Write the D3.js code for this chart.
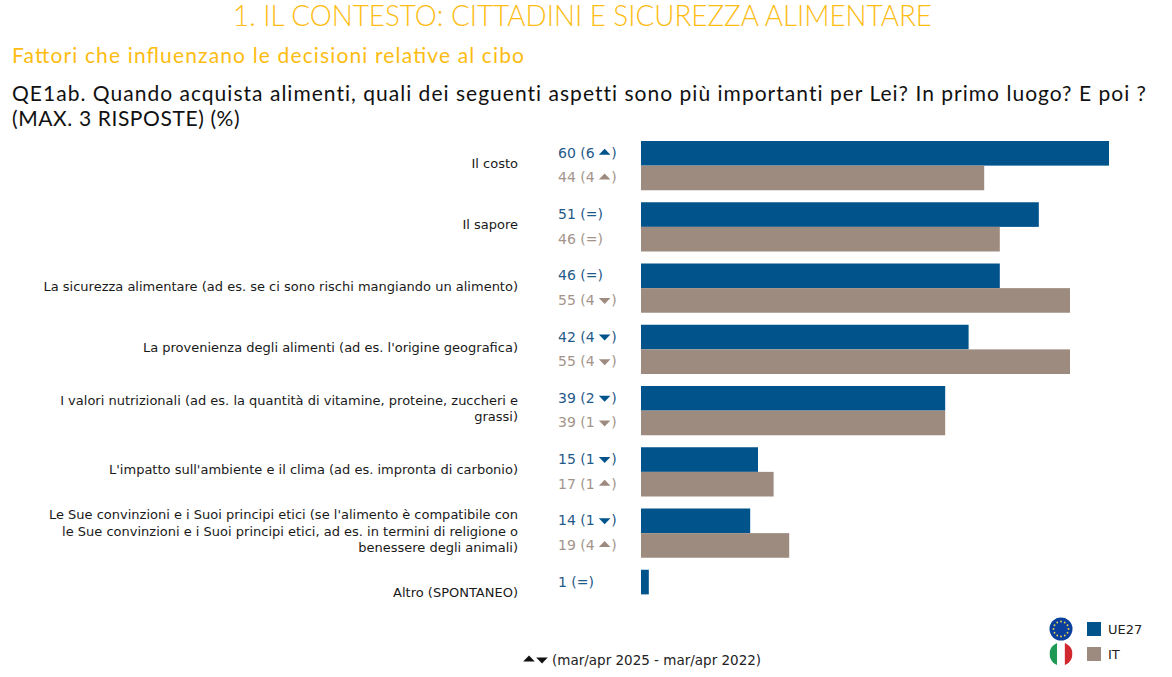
<!DOCTYPE html>
<html>
<head>
<meta charset="utf-8">
<script src="https://cdn.jsdelivr.net/npm/d3@7"></script>
<style>
  html, body { margin: 0; padding: 0; background: #fff; }
  text { font-family: "DejaVu Sans", sans-serif; }
  .head { font-family: "Lato", "Noto Sans", sans-serif; }
</style>
</head>
<body>
<div id="chart"></div>
<script>
// chart values
var categories = [
  ["Il costo"],
  ["Il sapore"],
  ["La sicurezza alimentare (ad es. se ci sono rischi mangiando un alimento)"],
  ["La provenienza degli alimenti (ad es. l'origine geografica)"],
  ["I valori nutrizionali (ad es. la quantità di vitamine, proteine, zuccheri e", "grassi)"],
  ["L'impatto sull'ambiente e il clima (ad es. impronta di carbonio)"],
  ["Le Sue convinzioni e i Suoi principi etici (se l'alimento è compatibile con", "le Sue convinzioni e i Suoi principi etici, ad es. in termini di religione o", "benessere degli animali)"],
  ["Altro (SPONTANEO)"]
];
var seriesNames = ["UE27", "IT"];
var valuesUE = [60, 51, 46, 42, 39, 15, 14, 1];
var valuesIT = [44, 46, 55, 55, 39, 17, 19, null];
var changeUE = ["6 up", "=", "=", "4 down", "2 down", "1 down", "1 down", "="];
var changeIT = ["4 up", "=", "4 down", "4 down", "1 down", "1 up", "4 up", null];

var title = "1. IL CONTESTO: CITTADINI E SICUREZZA ALIMENTARE";
var subtitle = "Fattori che influenzano le decisioni relative al cibo";
var question = [
  "QE1ab. Quando acquista alimenti, quali dei seguenti aspetti sono più importanti per Lei? In primo luogo? E poi ?",
  "(MAX. 3 RISPOSTE) (%)"
];
var footnote = "(mar/apr 2025 - mar/apr 2022)";

var colors = {UE27: "#00538b", IT: "#9e8b80"};
var textColors = {UE27: "#1f5a88", IT: "#a3948a"};
var yellow = "#fdbc12";

var width = 1172, height = 677;

var svg = d3.select("#chart")
.append("svg")
  .attr("width", width)
  .attr("height", height)
  .style("display", "block");

// headings
svg.append("text")
  .attr("class", "head")
  .attr("x", 233).attr("y", 26)
  .attr("font-size", 30)
  .attr("font-weight", 300)
  .attr("textLength", 699)
  .attr("lengthAdjust", "spacingAndGlyphs")
  .attr("fill", yellow)
  .text(title);

svg.append("text")
  .attr("class", "head")
  .attr("x", 12).attr("y", 63)
  .attr("font-size", 21)
  .attr("font-weight", 400)
  .attr("textLength", 512)
  .attr("fill", yellow)
  .text(subtitle);

svg.selectAll("text.question")
  .data(question)
  .enter()
  .append("text")
    .attr("class", "question head")
    .attr("x", 12)
    .attr("y", function(d, i) { return 101 + i * 25; })
    .attr("font-size", 21)
    .attr("letter-spacing", function(d, i) { return i === 0 ? 1.02 : 0.6; })
    .attr("fill", "#111")
    .text(function(d) { return d; });

// triangles for the change labels
var triUp = d3.symbol().type(d3.symbolTriangle).size(58)();

function triTransform(cx, cy, dir) {
  return "translate(" + cx + "," + cy + ") scale(1," + (dir === "up" ? 0.6 : -0.6) + ")";
}

// scales
var x = d3.scaleLinear().domain([0, 60]).range([641, 1109]);
var y = d3.scaleBand()
  .domain(d3.range(categories.length))
  .range([141, 619])
  .paddingInner(12 / 61.25)
  .paddingOuter(0);
var inner = d3.scaleBand()
  .domain(seriesNames)
  .range([0, y.bandwidth()]);

var rows = svg.selectAll("g.row")
  .data(categories.map(function(c, i) {
    return {
      lines: c,
      vals: [
        {s: "UE27", v: valuesUE[i], c: changeUE[i]},
        {s: "IT", v: valuesIT[i], c: changeIT[i]}
      ]
    };
  }))
  .enter()
  .append("g")
    .attr("class", "row")
    .attr("transform", function(d, i) { return "translate(0," + y(i) + ")"; });

// category labels, right aligned
rows.each(function(d) {
  var lh = 16.5;
  var mid = y.bandwidth() / 2 + 3;
  d3.select(this).selectAll("text.cat")
    .data(d.lines)
    .enter()
    .append("text")
      .attr("class", "cat")
      .attr("x", 518)
      .attr("y", function(l, i) { return mid - 0.5 + (i - (d.lines.length - 1) / 2) * lh; })
      .attr("text-anchor", "end")
      .attr("font-size", 13)
      .attr("fill", "#1a1a1a")
      .text(function(l) { return l; });
});

var cells = rows.selectAll("g.cell")
  .data(function(d) { return d.vals.filter(function(e) { return e.v !== null; }); })
  .enter()
  .append("g")
    .attr("class", "cell")
    .attr("transform", function(d) { return "translate(0," + inner(d.s) + ")"; });

cells.append("rect")
  .attr("x", x(0))
  .attr("y", 0)
  .attr("width", function(d) { return x(d.v) - x(0); })
  .attr("height", inner.bandwidth())
  .attr("fill", function(d) { return colors[d.s]; });

// value label with the change and its arrow
cells.each(function(d) {
  var g = d3.select(this);
  var base = inner.bandwidth() / 2 + 4.5;
  var t = g.append("text")
    .attr("x", 558)
    .attr("y", base)
    .attr("font-size", 14)
    .attr("fill", textColors[d.s]);
  if (d.c === "=") {
    t.text(d.v + " (=)");
    return;
  }
  var parts = d.c.split(" ");
  t.text(d.v + " (" + parts[0]);
  var end = 558 + t.node().getComputedTextLength();
  g.append("path")
    .attr("d", triUp)
    .attr("transform", triTransform(end + 10, base - 5, parts[1]))
    .attr("fill", colors[d.s]);
  g.append("text")
    .attr("x", end + 16.5)
    .attr("y", base)
    .attr("font-size", 14)
    .attr("fill", textColors[d.s])
    .text(")");
});

// footnote
["up", "down"].forEach(function(dir, i) {
  svg.append("path")
    .attr("d", triUp)
    .attr("transform", triTransform(529 + i * 13, 659.5, dir))
    .attr("fill", "#111");
});
svg.append("text")
  .attr("x", 552).attr("y", 665)
  .attr("font-size", 13.5)
  .attr("fill", "#222")
  .text(footnote);

// legend
var legendY = d3.scalePoint().domain(seriesNames).range([629, 654]);
var legend = svg.selectAll("g.legend")
  .data(seriesNames)
  .enter()
  .append("g")
    .attr("class", "legend")
    .attr("transform", function(d) { return "translate(0," + legendY(d) + ")"; });

legend.append("rect")
  .attr("x", 1087).attr("y", -7)
  .attr("width", 14).attr("height", 14)
  .attr("fill", function(d) { return colors[d]; });

legend.append("text")
  .attr("x", 1108).attr("y", 5)
  .attr("font-size", 13)
  .attr("fill", "#222")
  .text(function(d) { return d; });

// flags
var flagX = 1061, flagR = 11.5;
var eu = svg.append("g").attr("transform", "translate(" + flagX + "," + legendY("UE27") + ")");
eu.append("circle").attr("r", flagR).attr("fill", "#0b3f9e");
eu.selectAll("circle.star")
  .data(d3.range(12))
  .enter()
  .append("circle")
    .attr("class", "star")
    .attr("r", 0.9)
    .attr("cx", function(d) { return 7.5 * Math.cos(d * Math.PI / 6); })
    .attr("cy", function(d) { return 7.5 * Math.sin(d * Math.PI / 6); })
    .attr("fill", "#e8d44a");

svg.append("clipPath").attr("id", "itclip")
  .append("circle").attr("r", flagR);
var it = svg.append("g")
  .attr("transform", "translate(" + flagX + "," + legendY("IT") + ")")
  .append("g").attr("clip-path", "url(#itclip)");
it.selectAll("rect")
  .data(["#1f9a55", "#ffffff", "#d0282e"])
  .enter()
  .append("rect")
    .attr("x", function(d, i) { return -flagR + i * (2 * flagR / 3); })
    .attr("y", -flagR)
    .attr("width", 2 * flagR / 3)
    .attr("height", 2 * flagR)
    .attr("fill", function(d) { return d; });
</script>
</body>
</html>
